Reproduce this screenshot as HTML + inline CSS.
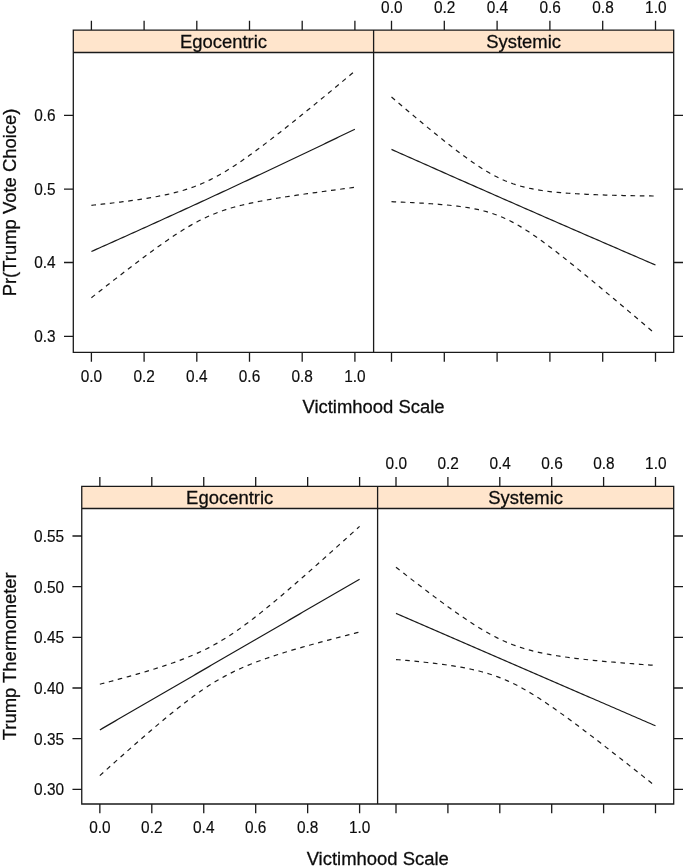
<!DOCTYPE html>
<html><head><meta charset="utf-8"><title>Victimhood effects</title>
<style>
html,body{margin:0;padding:0;background:#fff;}
svg{display:block;font-family:"Liberation Sans",Arial,Helvetica,sans-serif;}
text{fill:#0c0c0c;stroke:#0c0c0c;stroke-width:0.15px;}
text.b{stroke-width:0.28px;}
</style></head><body>
<svg width="685" height="867" viewBox="0 0 685 867">
<rect width="685" height="867" fill="#fff"/>
<rect x="73.3" y="30.1" width="600.40" height="22.40" fill="#ffe5cc"/>
<path d="M73.3,30.1 H673.7 V352.4 H73.3 Z M73.3,52.5 H673.7 M373.6,30.1 V352.4 M91.40,30.1 v-9.3 M91.40,352.4 v9.3 M391.50,30.1 v-9.3 M391.50,352.4 v9.3 M144.10,30.1 v-9.3 M144.10,352.4 v9.3 M444.30,30.1 v-9.3 M444.30,352.4 v9.3 M196.80,30.1 v-9.3 M196.80,352.4 v9.3 M497.10,30.1 v-9.3 M497.10,352.4 v9.3 M249.50,30.1 v-9.3 M249.50,352.4 v9.3 M549.90,30.1 v-9.3 M549.90,352.4 v9.3 M302.20,30.1 v-9.3 M302.20,352.4 v9.3 M602.70,30.1 v-9.3 M602.70,352.4 v9.3 M354.90,30.1 v-9.3 M354.90,352.4 v9.3 M655.50,30.1 v-9.3 M655.50,352.4 v9.3 M73.3,115.4 h-9.3 M673.7,115.4 h9.3 M73.3,189.2 h-9.3 M673.7,189.2 h9.3 M73.3,262.5 h-9.3 M673.7,262.5 h9.3 M73.3,336.3 h-9.3 M673.7,336.3 h9.3" fill="none" stroke="#1a1a1a" stroke-width="1.3"/>
<text transform="translate(91.40,381.70) scale(1,1.05)" text-anchor="middle" font-size="15.4">0.0</text>
<text transform="translate(391.80,12.80) scale(1,1.05)" text-anchor="middle" font-size="15.4">0.0</text>
<text transform="translate(144.10,381.70) scale(1,1.05)" text-anchor="middle" font-size="15.4">0.2</text>
<text transform="translate(444.60,12.80) scale(1,1.05)" text-anchor="middle" font-size="15.4">0.2</text>
<text transform="translate(196.80,381.70) scale(1,1.05)" text-anchor="middle" font-size="15.4">0.4</text>
<text transform="translate(497.40,12.80) scale(1,1.05)" text-anchor="middle" font-size="15.4">0.4</text>
<text transform="translate(249.50,381.70) scale(1,1.05)" text-anchor="middle" font-size="15.4">0.6</text>
<text transform="translate(550.20,12.80) scale(1,1.05)" text-anchor="middle" font-size="15.4">0.6</text>
<text transform="translate(302.20,381.70) scale(1,1.05)" text-anchor="middle" font-size="15.4">0.8</text>
<text transform="translate(603.00,12.80) scale(1,1.05)" text-anchor="middle" font-size="15.4">0.8</text>
<text transform="translate(354.90,381.70) scale(1,1.05)" text-anchor="middle" font-size="15.4">1.0</text>
<text transform="translate(655.80,12.80) scale(1,1.05)" text-anchor="middle" font-size="15.4">1.0</text>
<text transform="translate(55.60,121.35) scale(1,1.05)" text-anchor="end" font-size="15.4">0.6</text>
<text transform="translate(55.60,195.15) scale(1,1.05)" text-anchor="end" font-size="15.4">0.5</text>
<text transform="translate(55.60,268.45) scale(1,1.05)" text-anchor="end" font-size="15.4">0.4</text>
<text transform="translate(55.60,342.25) scale(1,1.05)" text-anchor="end" font-size="15.4">0.3</text>
<text x="223.45" y="48.10" class="b" text-anchor="middle" font-size="18.45">Egocentric</text>
<text x="523.65" y="48.10" class="b" text-anchor="middle" font-size="18.45">Systemic</text>
<text x="373.50" y="412.5" class="b" text-anchor="middle" font-size="18.45">Victimhood Scale</text>
<text transform="translate(16.3,202.45) rotate(-90)" class="b" text-anchor="middle" font-size="18.45">Pr(Trump Vote Choice)</text>
<path d="M91.40,251.50 L94.04,250.33 L96.67,249.16 L99.31,247.98 L101.94,246.81 L104.58,245.63 L107.21,244.46 L109.84,243.28 L112.48,242.10 L115.12,240.92 L117.75,239.74 L120.39,238.56 L123.02,237.37 L125.66,236.19 L128.29,235.00 L130.93,233.82 L133.56,232.63 L136.19,231.44 L138.83,230.25 L141.47,229.06 L144.10,227.87 L146.74,226.68 L149.37,225.49 L152.00,224.29 L154.64,223.10 L157.28,221.90 L159.91,220.70 L162.55,219.50 L165.18,218.30 L167.81,217.10 L170.45,215.90 L173.09,214.70 L175.72,213.50 L178.36,212.29 L180.99,211.08 L183.62,209.88 L186.26,208.67 L188.90,207.46 L191.53,206.25 L194.17,205.04 L196.80,203.83 L199.44,202.61 L202.07,201.40 L204.70,200.19 L207.34,198.97 L209.98,197.75 L212.61,196.53 L215.25,195.31 L217.88,194.09 L220.52,192.87 L223.15,191.65 L225.78,190.43 L228.42,189.20 L231.06,187.98 L233.69,186.75 L236.33,185.52 L238.96,184.29 L241.60,183.06 L244.23,181.83 L246.87,180.60 L249.50,179.37 L252.13,178.13 L254.77,176.90 L257.40,175.66 L260.04,174.43 L262.68,173.19 L265.31,171.95 L267.95,170.71 L270.58,169.47 L273.22,168.23 L275.85,166.98 L278.49,165.74 L281.12,164.49 L283.75,163.25 L286.39,162.00 L289.02,160.75 L291.66,159.50 L294.30,158.25 L296.93,157.00 L299.57,155.75 L302.20,154.49 L304.84,153.24 L307.47,151.98 L310.11,150.72 L312.74,149.47 L315.38,148.21 L318.01,146.95 L320.64,145.69 L323.28,144.43 L325.92,143.16 L328.55,141.90 L331.19,140.63 L333.82,139.37 L336.46,138.10 L339.09,136.83 L341.73,135.56 L344.36,134.29 L347.00,133.02 L349.63,131.75 L352.26,130.47 L354.90,129.20" fill="none" stroke="#1a1a1a" stroke-width="1.2"/>
<path d="M91.40,205.28 L94.04,205.01 L96.67,204.74 L99.31,204.46 L101.94,204.18 L104.58,203.89 L107.21,203.60 L109.84,203.30 L112.48,202.99 L115.12,202.68 L117.75,202.37 L120.39,202.04 L123.02,201.71 L125.66,201.37 L128.29,201.03 L130.93,200.67 L133.56,200.31 L136.19,199.93 L138.83,199.55 L141.47,199.15 L144.10,198.74 L146.74,198.31 L149.37,197.88 L152.00,197.42 L154.64,196.95 L157.28,196.47 L159.91,195.96 L162.55,195.43 L165.18,194.88 L167.81,194.30 L170.45,193.70 L173.09,193.07 L175.72,192.41 L178.36,191.71 L180.99,190.98 L183.62,190.21 L186.26,189.39 L188.90,188.54 L191.53,187.64 L194.17,186.69 L196.80,185.69 L199.44,184.64 L202.07,183.53 L204.70,182.37 L207.34,181.16 L209.98,179.89 L212.61,178.57 L215.25,177.19 L217.88,175.76 L220.52,174.28 L223.15,172.75 L225.78,171.18 L228.42,169.56 L231.06,167.90 L233.69,166.21 L236.33,164.47 L238.96,162.70 L241.60,160.91 L244.23,159.08 L246.87,157.22 L249.50,155.35 L252.13,153.44 L254.77,151.52 L257.40,149.58 L260.04,147.61 L262.68,145.64 L265.31,143.64 L267.95,141.63 L270.58,139.61 L273.22,137.58 L275.85,135.53 L278.49,133.48 L281.12,131.41 L283.75,129.33 L286.39,127.25 L289.02,125.15 L291.66,123.05 L294.30,120.95 L296.93,118.83 L299.57,116.71 L302.20,114.58 L304.84,112.45 L307.47,110.31 L310.11,108.16 L312.74,106.01 L315.38,103.86 L318.01,101.70 L320.64,99.54 L323.28,97.37 L325.92,95.20 L328.55,93.02 L331.19,90.84 L333.82,88.66 L336.46,86.48 L339.09,84.29 L341.73,82.09 L344.36,79.90 L347.00,77.70 L349.63,75.50 L352.26,73.30 L354.90,71.09" fill="none" stroke="#1a1a1a" stroke-width="1.2" stroke-dasharray="4.63 4.63"/>
<path d="M91.40,297.72 L94.04,295.65 L96.67,293.58 L99.31,291.51 L101.94,289.44 L104.58,287.38 L107.21,285.31 L109.84,283.26 L112.48,281.20 L115.12,279.15 L117.75,277.11 L120.39,275.07 L123.02,273.03 L125.66,271.00 L128.29,268.98 L130.93,266.96 L133.56,264.96 L136.19,262.95 L138.83,260.96 L141.47,258.98 L144.10,257.01 L146.74,255.04 L149.37,253.10 L152.00,251.16 L154.64,249.24 L157.28,247.33 L159.91,245.45 L162.55,243.58 L165.18,241.73 L167.81,239.90 L170.45,238.10 L173.09,236.33 L175.72,234.59 L178.36,232.87 L180.99,231.19 L183.62,229.55 L186.26,227.95 L188.90,226.38 L191.53,224.86 L194.17,223.39 L196.80,221.97 L199.44,220.59 L202.07,219.27 L204.70,218.00 L207.34,216.78 L209.98,215.61 L212.61,214.50 L215.25,213.44 L217.88,212.43 L220.52,211.46 L223.15,210.55 L225.78,209.67 L228.42,208.84 L231.06,208.05 L233.69,207.29 L236.33,206.57 L238.96,205.88 L241.60,205.22 L244.23,204.59 L246.87,203.98 L249.50,203.39 L252.13,202.83 L254.77,202.28 L257.40,201.75 L260.04,201.24 L262.68,200.74 L265.31,200.26 L267.95,199.78 L270.58,199.32 L273.22,198.87 L275.85,198.43 L278.49,198.00 L281.12,197.58 L283.75,197.16 L286.39,196.75 L289.02,196.35 L291.66,195.95 L294.30,195.55 L296.93,195.17 L299.57,194.78 L302.20,194.40 L304.84,194.03 L307.47,193.66 L310.11,193.29 L312.74,192.92 L315.38,192.56 L318.01,192.20 L320.64,191.84 L323.28,191.48 L325.92,191.13 L328.55,190.77 L331.19,190.42 L333.82,190.07 L336.46,189.72 L339.09,189.38 L341.73,189.03 L344.36,188.68 L347.00,188.34 L349.63,188.00 L352.26,187.65 L354.90,187.31" fill="none" stroke="#1a1a1a" stroke-width="1.2" stroke-dasharray="4.63 4.63"/>
<path d="M391.50,149.40 L394.14,150.58 L396.78,151.75 L399.42,152.93 L402.06,154.10 L404.70,155.28 L407.34,156.45 L409.98,157.62 L412.62,158.80 L415.26,159.97 L417.90,161.14 L420.54,162.31 L423.18,163.48 L425.82,164.65 L428.46,165.82 L431.10,167.00 L433.74,168.16 L436.38,169.33 L439.02,170.50 L441.66,171.67 L444.30,172.84 L446.94,174.01 L449.58,175.18 L452.22,176.34 L454.86,177.51 L457.50,178.68 L460.14,179.84 L462.78,181.01 L465.42,182.17 L468.06,183.34 L470.70,184.50 L473.34,185.66 L475.98,186.83 L478.62,187.99 L481.26,189.15 L483.90,190.32 L486.54,191.48 L489.18,192.64 L491.82,193.80 L494.46,194.96 L497.10,196.12 L499.74,197.28 L502.38,198.44 L505.02,199.60 L507.66,200.76 L510.30,201.92 L512.94,203.07 L515.58,204.23 L518.22,205.39 L520.86,206.54 L523.50,207.70 L526.14,208.86 L528.78,210.01 L531.42,211.17 L534.06,212.32 L536.70,213.48 L539.34,214.63 L541.98,215.78 L544.62,216.94 L547.26,218.09 L549.90,219.24 L552.54,220.39 L555.18,221.54 L557.82,222.69 L560.46,223.84 L563.10,225.00 L565.74,226.14 L568.38,227.29 L571.02,228.44 L573.66,229.59 L576.30,230.74 L578.94,231.89 L581.58,233.04 L584.22,234.18 L586.86,235.33 L589.50,236.47 L592.14,237.62 L594.78,238.77 L597.42,239.91 L600.06,241.06 L602.70,242.20 L605.34,243.34 L607.98,244.49 L610.62,245.63 L613.26,246.77 L615.90,247.91 L618.54,249.06 L621.18,250.20 L623.82,251.34 L626.46,252.48 L629.10,253.62 L631.74,254.76 L634.38,255.90 L637.02,257.04 L639.66,258.18 L642.30,259.32 L644.94,260.45 L647.58,261.59 L650.22,262.73 L652.86,263.86 L655.50,265.00" fill="none" stroke="#1a1a1a" stroke-width="1.2"/>
<path d="M391.50,97.08 L394.14,99.33 L396.78,101.57 L399.42,103.82 L402.06,106.05 L404.70,108.28 L407.34,110.51 L409.98,112.73 L412.62,114.95 L415.26,117.16 L417.90,119.36 L420.54,121.56 L423.18,123.74 L425.82,125.93 L428.46,128.10 L431.10,130.26 L433.74,132.42 L436.38,134.56 L439.02,136.69 L441.66,138.81 L444.30,140.91 L446.94,143.00 L449.58,145.08 L452.22,147.13 L454.86,149.17 L457.50,151.19 L460.14,153.18 L462.78,155.15 L465.42,157.09 L468.06,159.00 L470.70,160.87 L473.34,162.71 L475.98,164.51 L478.62,166.27 L481.26,167.98 L483.90,169.65 L486.54,171.25 L489.18,172.80 L491.82,174.29 L494.46,175.72 L497.10,177.08 L499.74,178.37 L502.38,179.59 L505.02,180.74 L507.66,181.82 L510.30,182.83 L512.94,183.78 L515.58,184.65 L518.22,185.47 L520.86,186.22 L523.50,186.92 L526.14,187.56 L528.78,188.16 L531.42,188.70 L534.06,189.21 L536.70,189.68 L539.34,190.11 L541.98,190.52 L544.62,190.89 L547.26,191.23 L549.90,191.55 L552.54,191.85 L555.18,192.12 L557.82,192.38 L560.46,192.62 L563.10,192.85 L565.74,193.06 L568.38,193.25 L571.02,193.44 L573.66,193.61 L576.30,193.77 L578.94,193.92 L581.58,194.07 L584.22,194.20 L586.86,194.33 L589.50,194.45 L592.14,194.56 L594.78,194.67 L597.42,194.77 L600.06,194.87 L602.70,194.96 L605.34,195.04 L607.98,195.12 L610.62,195.20 L613.26,195.27 L615.90,195.34 L618.54,195.41 L621.18,195.47 L623.82,195.53 L626.46,195.58 L629.10,195.63 L631.74,195.68 L634.38,195.73 L637.02,195.77 L639.66,195.82 L642.30,195.86 L644.94,195.89 L647.58,195.93 L650.22,195.96 L652.86,195.99 L655.50,196.02" fill="none" stroke="#1a1a1a" stroke-width="1.2" stroke-dasharray="4.63 4.63"/>
<path d="M391.50,201.72 L394.14,201.82 L396.78,201.93 L399.42,202.04 L402.06,202.15 L404.70,202.27 L407.34,202.39 L409.98,202.51 L412.62,202.64 L415.26,202.78 L417.90,202.92 L420.54,203.07 L423.18,203.22 L425.82,203.38 L428.46,203.55 L431.10,203.73 L433.74,203.91 L436.38,204.11 L439.02,204.32 L441.66,204.54 L444.30,204.77 L446.94,205.01 L449.58,205.27 L452.22,205.55 L454.86,205.85 L457.50,206.16 L460.14,206.50 L462.78,206.87 L465.42,207.26 L468.06,207.68 L470.70,208.13 L473.34,208.62 L475.98,209.14 L478.62,209.71 L481.26,210.32 L483.90,210.98 L486.54,211.70 L489.18,212.47 L491.82,213.30 L494.46,214.20 L497.10,215.16 L499.74,216.19 L502.38,217.29 L505.02,218.45 L507.66,219.69 L510.30,221.00 L512.94,222.37 L515.58,223.81 L518.22,225.31 L520.86,226.87 L523.50,228.48 L526.14,230.15 L528.78,231.87 L531.42,233.63 L534.06,235.43 L536.70,237.27 L539.34,239.14 L541.98,241.05 L544.62,242.98 L547.26,244.94 L549.90,246.93 L552.54,248.94 L555.18,250.96 L557.82,253.01 L560.46,255.07 L563.10,257.14 L565.74,259.23 L568.38,261.34 L571.02,263.45 L573.66,265.57 L576.30,267.71 L578.94,269.85 L581.58,272.00 L584.22,274.16 L586.86,276.33 L589.50,278.50 L592.14,280.68 L594.78,282.86 L597.42,285.05 L600.06,287.24 L602.70,289.44 L605.34,291.64 L607.98,293.85 L610.62,296.06 L613.26,298.27 L615.90,300.49 L618.54,302.71 L621.18,304.93 L623.82,307.15 L626.46,309.38 L629.10,311.61 L631.74,313.84 L634.38,316.07 L637.02,318.30 L639.66,320.54 L642.30,322.77 L644.94,325.01 L647.58,327.25 L650.22,329.49 L652.86,331.74 L655.50,333.98" fill="none" stroke="#1a1a1a" stroke-width="1.2" stroke-dasharray="4.63 4.63"/>
<rect x="81.75" y="486.3" width="591.95" height="22.20" fill="#ffe5cc"/>
<path d="M81.75,486.3 H673.7 V804.0 H81.75 Z M81.75,508.5 H673.7 M377.6,486.3 V804.0 M99.85,486.3 v-9.3 M99.85,804.0 v9.3 M396.00,486.3 v-9.3 M396.00,804.0 v9.3 M151.80,486.3 v-9.3 M151.80,804.0 v9.3 M447.90,486.3 v-9.3 M447.90,804.0 v9.3 M203.75,486.3 v-9.3 M203.75,804.0 v9.3 M499.80,486.3 v-9.3 M499.80,804.0 v9.3 M255.70,486.3 v-9.3 M255.70,804.0 v9.3 M551.70,486.3 v-9.3 M551.70,804.0 v9.3 M307.65,486.3 v-9.3 M307.65,804.0 v9.3 M603.60,486.3 v-9.3 M603.60,804.0 v9.3 M359.60,486.3 v-9.3 M359.60,804.0 v9.3 M655.50,486.3 v-9.3 M655.50,804.0 v9.3 M81.75,536.0 h-9.3 M673.7,536.0 h9.3 M81.75,586.6 h-9.3 M673.7,586.6 h9.3 M81.75,637.3 h-9.3 M673.7,637.3 h9.3 M81.75,688.0 h-9.3 M673.7,688.0 h9.3 M81.75,738.6 h-9.3 M673.7,738.6 h9.3 M81.75,789.3 h-9.3 M673.7,789.3 h9.3" fill="none" stroke="#1a1a1a" stroke-width="1.3"/>
<text transform="translate(99.85,833.30) scale(1,1.05)" text-anchor="middle" font-size="15.4">0.0</text>
<text transform="translate(396.30,469.00) scale(1,1.05)" text-anchor="middle" font-size="15.4">0.0</text>
<text transform="translate(151.80,833.30) scale(1,1.05)" text-anchor="middle" font-size="15.4">0.2</text>
<text transform="translate(448.20,469.00) scale(1,1.05)" text-anchor="middle" font-size="15.4">0.2</text>
<text transform="translate(203.75,833.30) scale(1,1.05)" text-anchor="middle" font-size="15.4">0.4</text>
<text transform="translate(500.10,469.00) scale(1,1.05)" text-anchor="middle" font-size="15.4">0.4</text>
<text transform="translate(255.70,833.30) scale(1,1.05)" text-anchor="middle" font-size="15.4">0.6</text>
<text transform="translate(552.00,469.00) scale(1,1.05)" text-anchor="middle" font-size="15.4">0.6</text>
<text transform="translate(307.65,833.30) scale(1,1.05)" text-anchor="middle" font-size="15.4">0.8</text>
<text transform="translate(603.90,469.00) scale(1,1.05)" text-anchor="middle" font-size="15.4">0.8</text>
<text transform="translate(359.60,833.30) scale(1,1.05)" text-anchor="middle" font-size="15.4">1.0</text>
<text transform="translate(655.80,469.00) scale(1,1.05)" text-anchor="middle" font-size="15.4">1.0</text>
<text transform="translate(64.05,541.95) scale(1,1.05)" text-anchor="end" font-size="15.4">0.55</text>
<text transform="translate(64.05,592.55) scale(1,1.05)" text-anchor="end" font-size="15.4">0.50</text>
<text transform="translate(64.05,643.25) scale(1,1.05)" text-anchor="end" font-size="15.4">0.45</text>
<text transform="translate(64.05,693.95) scale(1,1.05)" text-anchor="end" font-size="15.4">0.40</text>
<text transform="translate(64.05,744.55) scale(1,1.05)" text-anchor="end" font-size="15.4">0.35</text>
<text transform="translate(64.05,795.25) scale(1,1.05)" text-anchor="end" font-size="15.4">0.30</text>
<text x="229.68" y="504.30" class="b" text-anchor="middle" font-size="18.45">Egocentric</text>
<text x="525.65" y="504.30" class="b" text-anchor="middle" font-size="18.45">Systemic</text>
<text x="377.73" y="864.7" class="b" text-anchor="middle" font-size="18.45">Victimhood Scale</text>
<text transform="translate(16.3,656.25) rotate(-90)" class="b" text-anchor="middle" font-size="18.45">Trump Thermometer</text>
<path d="M99.85,729.90 L102.45,728.39 L105.04,726.89 L107.64,725.38 L110.24,723.87 L112.84,722.37 L115.43,720.86 L118.03,719.35 L120.63,717.84 L123.23,716.34 L125.82,714.83 L128.42,713.32 L131.02,711.82 L133.62,710.31 L136.22,708.80 L138.81,707.29 L141.41,705.79 L144.01,704.28 L146.60,702.77 L149.20,701.27 L151.80,699.76 L154.40,698.25 L157.00,696.75 L159.59,695.24 L162.19,693.73 L164.79,692.23 L167.38,690.72 L169.98,689.21 L172.58,687.70 L175.18,686.20 L177.77,684.69 L180.37,683.18 L182.97,681.68 L185.57,680.17 L188.17,678.66 L190.76,677.15 L193.36,675.65 L195.96,674.14 L198.56,672.63 L201.15,671.13 L203.75,669.62 L206.35,668.11 L208.94,666.61 L211.54,665.10 L214.14,663.59 L216.74,662.09 L219.33,660.58 L221.93,659.07 L224.53,657.56 L227.13,656.06 L229.72,654.55 L232.32,653.04 L234.92,651.54 L237.52,650.03 L240.12,648.52 L242.71,647.01 L245.31,645.51 L247.91,644.00 L250.50,642.49 L253.10,640.99 L255.70,639.48 L258.30,637.97 L260.89,636.47 L263.49,634.96 L266.09,633.45 L268.69,631.95 L271.28,630.44 L273.88,628.93 L276.48,627.42 L279.08,625.92 L281.68,624.41 L284.27,622.90 L286.87,621.40 L289.47,619.89 L292.06,618.38 L294.66,616.88 L297.26,615.37 L299.86,613.86 L302.46,612.35 L305.05,610.85 L307.65,609.34 L310.25,607.83 L312.85,606.33 L315.44,604.82 L318.04,603.31 L320.64,601.81 L323.24,600.30 L325.83,598.79 L328.43,597.28 L331.03,595.78 L333.62,594.27 L336.22,592.76 L338.82,591.26 L341.42,589.75 L344.01,588.24 L346.61,586.74 L349.21,585.23 L351.81,583.72 L354.40,582.21 L357.00,580.71 L359.60,579.20" fill="none" stroke="#1a1a1a" stroke-width="1.2"/>
<path d="M99.85,684.22 L102.45,683.54 L105.04,682.86 L107.64,682.18 L110.24,681.49 L112.84,680.80 L115.43,680.10 L118.03,679.40 L120.63,678.70 L123.23,677.99 L125.82,677.28 L128.42,676.56 L131.02,675.83 L133.62,675.10 L136.22,674.36 L138.81,673.61 L141.41,672.86 L144.01,672.10 L146.60,671.33 L149.20,670.55 L151.80,669.76 L154.40,668.96 L157.00,668.15 L159.59,667.33 L162.19,666.49 L164.79,665.64 L167.38,664.77 L169.98,663.89 L172.58,662.98 L175.18,662.06 L177.77,661.12 L180.37,660.16 L182.97,659.17 L185.57,658.16 L188.17,657.12 L190.76,656.05 L193.36,654.95 L195.96,653.81 L198.56,652.65 L201.15,651.44 L203.75,650.20 L206.35,648.92 L208.94,647.60 L211.54,646.23 L214.14,644.83 L216.74,643.37 L219.33,641.88 L221.93,640.34 L224.53,638.75 L227.13,637.12 L229.72,635.45 L232.32,633.74 L234.92,631.99 L237.52,630.20 L240.12,628.37 L242.71,626.50 L245.31,624.61 L247.91,622.68 L250.50,620.72 L253.10,618.73 L255.70,616.71 L258.30,614.68 L260.89,612.61 L263.49,610.53 L266.09,608.43 L268.69,606.31 L271.28,604.17 L273.88,602.01 L276.48,599.84 L279.08,597.66 L281.68,595.46 L284.27,593.26 L286.87,591.04 L289.47,588.81 L292.06,586.57 L294.66,584.32 L297.26,582.06 L299.86,579.80 L302.46,577.52 L305.05,575.25 L307.65,572.96 L310.25,570.67 L312.85,568.37 L315.44,566.07 L318.04,563.76 L320.64,561.45 L323.24,559.13 L325.83,556.81 L328.43,554.49 L331.03,552.16 L333.62,549.83 L336.22,547.49 L338.82,545.15 L341.42,542.81 L344.01,540.47 L346.61,538.12 L349.21,535.77 L351.81,533.42 L354.40,531.07 L357.00,528.71 L359.60,526.35" fill="none" stroke="#1a1a1a" stroke-width="1.2" stroke-dasharray="4.63 4.63"/>
<path d="M99.85,775.58 L102.45,773.25 L105.04,770.91 L107.64,768.58 L110.24,766.26 L112.84,763.93 L115.43,761.61 L118.03,759.30 L120.63,756.99 L123.23,754.68 L125.82,752.38 L128.42,750.09 L131.02,747.80 L133.62,745.52 L136.22,743.24 L138.81,740.98 L141.41,738.71 L144.01,736.46 L146.60,734.22 L149.20,731.98 L151.80,729.76 L154.40,727.54 L157.00,725.34 L159.59,723.15 L162.19,720.98 L164.79,718.81 L167.38,716.67 L169.98,714.54 L172.58,712.42 L175.18,710.33 L177.77,708.26 L180.37,706.21 L182.97,704.18 L185.57,702.18 L188.17,700.21 L190.76,698.26 L193.36,696.35 L195.96,694.47 L198.56,692.62 L201.15,690.81 L203.75,689.04 L206.35,687.31 L208.94,685.61 L211.54,683.96 L214.14,682.36 L216.74,680.80 L219.33,679.28 L221.93,677.80 L224.53,676.37 L227.13,674.99 L229.72,673.65 L232.32,672.34 L234.92,671.08 L237.52,669.86 L240.12,668.68 L242.71,667.53 L245.31,666.41 L247.91,665.33 L250.50,664.27 L253.10,663.25 L255.70,662.25 L258.30,661.27 L260.89,660.32 L263.49,659.39 L266.09,658.48 L268.69,657.58 L271.28,656.71 L273.88,655.85 L276.48,655.00 L279.08,654.17 L281.68,653.36 L284.27,652.55 L286.87,651.76 L289.47,650.97 L292.06,650.20 L294.66,649.43 L297.26,648.67 L299.86,647.93 L302.46,647.18 L305.05,646.45 L307.65,645.72 L310.25,645.00 L312.85,644.28 L315.44,643.57 L318.04,642.86 L320.64,642.16 L323.24,641.46 L325.83,640.77 L328.43,640.08 L331.03,639.40 L333.62,638.71 L336.22,638.03 L338.82,637.36 L341.42,636.69 L344.01,636.02 L346.61,635.35 L349.21,634.68 L351.81,634.02 L354.40,633.36 L357.00,632.70 L359.60,632.05" fill="none" stroke="#1a1a1a" stroke-width="1.2" stroke-dasharray="4.63 4.63"/>
<path d="M396.00,613.40 L398.60,614.52 L401.19,615.65 L403.79,616.77 L406.38,617.90 L408.98,619.02 L411.57,620.14 L414.17,621.27 L416.76,622.39 L419.36,623.52 L421.95,624.64 L424.55,625.76 L427.14,626.89 L429.74,628.01 L432.33,629.14 L434.93,630.26 L437.52,631.38 L440.12,632.51 L442.71,633.63 L445.31,634.76 L447.90,635.88 L450.50,637.00 L453.09,638.13 L455.69,639.25 L458.28,640.38 L460.88,641.50 L463.47,642.62 L466.06,643.75 L468.66,644.87 L471.25,646.00 L473.85,647.12 L476.44,648.24 L479.04,649.37 L481.63,650.49 L484.23,651.62 L486.82,652.74 L489.42,653.86 L492.01,654.99 L494.61,656.11 L497.20,657.24 L499.80,658.36 L502.39,659.48 L504.99,660.61 L507.58,661.73 L510.18,662.86 L512.77,663.98 L515.37,665.10 L517.97,666.23 L520.56,667.35 L523.15,668.48 L525.75,669.60 L528.35,670.72 L530.94,671.85 L533.53,672.97 L536.13,674.10 L538.73,675.22 L541.32,676.34 L543.91,677.47 L546.51,678.59 L549.11,679.72 L551.70,680.84 L554.29,681.96 L556.89,683.09 L559.49,684.21 L562.08,685.34 L564.67,686.46 L567.27,687.58 L569.87,688.71 L572.46,689.83 L575.06,690.96 L577.65,692.08 L580.25,693.20 L582.84,694.33 L585.43,695.45 L588.03,696.58 L590.62,697.70 L593.22,698.82 L595.82,699.95 L598.41,701.07 L601.00,702.20 L603.60,703.32 L606.20,704.44 L608.79,705.57 L611.38,706.69 L613.98,707.82 L616.58,708.94 L619.17,710.06 L621.76,711.19 L624.36,712.31 L626.96,713.44 L629.55,714.56 L632.14,715.68 L634.74,716.81 L637.34,717.93 L639.93,719.06 L642.52,720.18 L645.12,721.30 L647.72,722.43 L650.31,723.55 L652.90,724.68 L655.50,725.80" fill="none" stroke="#1a1a1a" stroke-width="1.2"/>
<path d="M396.00,567.27 L398.60,569.30 L401.19,571.32 L403.79,573.34 L406.38,575.35 L408.98,577.36 L411.57,579.36 L414.17,581.36 L416.76,583.35 L419.36,585.34 L421.95,587.32 L424.55,589.29 L427.14,591.26 L429.74,593.22 L432.33,595.17 L434.93,597.11 L437.52,599.04 L440.12,600.96 L442.71,602.86 L445.31,604.76 L447.90,606.64 L450.50,608.51 L453.09,610.36 L455.69,612.20 L458.28,614.02 L460.88,615.81 L463.47,617.59 L466.06,619.34 L468.66,621.07 L471.25,622.77 L473.85,624.45 L476.44,626.09 L479.04,627.70 L481.63,629.27 L484.23,630.81 L486.82,632.31 L489.42,633.76 L492.01,635.17 L494.61,636.54 L497.20,637.85 L499.80,639.12 L502.39,640.34 L504.99,641.50 L507.58,642.61 L510.18,643.68 L512.77,644.69 L515.37,645.65 L517.97,646.56 L520.56,647.43 L523.15,648.24 L525.75,649.02 L528.35,649.76 L530.94,650.45 L533.53,651.11 L536.13,651.74 L538.73,652.33 L541.32,652.89 L543.91,653.42 L546.51,653.93 L549.11,654.42 L551.70,654.88 L554.29,655.32 L556.89,655.75 L559.49,656.15 L562.08,656.54 L564.67,656.91 L567.27,657.27 L569.87,657.62 L572.46,657.96 L575.06,658.28 L577.65,658.59 L580.25,658.90 L582.84,659.19 L585.43,659.48 L588.03,659.76 L590.62,660.03 L593.22,660.30 L595.82,660.56 L598.41,660.81 L601.00,661.06 L603.60,661.30 L606.20,661.54 L608.79,661.77 L611.38,662.00 L613.98,662.22 L616.58,662.44 L619.17,662.66 L621.76,662.87 L624.36,663.08 L626.96,663.29 L629.55,663.50 L632.14,663.70 L634.74,663.90 L637.34,664.10 L639.93,664.29 L642.52,664.48 L645.12,664.67 L647.72,664.86 L650.31,665.05 L652.90,665.23 L655.50,665.42" fill="none" stroke="#1a1a1a" stroke-width="1.2" stroke-dasharray="4.63 4.63"/>
<path d="M396.00,659.53 L398.60,659.75 L401.19,659.98 L403.79,660.21 L406.38,660.44 L408.98,660.68 L411.57,660.93 L414.17,661.18 L416.76,661.43 L419.36,661.69 L421.95,661.96 L424.55,662.24 L427.14,662.52 L429.74,662.81 L432.33,663.11 L434.93,663.41 L437.52,663.73 L440.12,664.06 L442.71,664.40 L445.31,664.75 L447.90,665.12 L450.50,665.50 L453.09,665.89 L455.69,666.31 L458.28,666.74 L460.88,667.19 L463.47,667.66 L466.06,668.15 L468.66,668.67 L471.25,669.22 L473.85,669.79 L476.44,670.40 L479.04,671.04 L481.63,671.71 L484.23,672.42 L486.82,673.17 L489.42,673.97 L492.01,674.80 L494.61,675.69 L497.20,676.62 L499.80,677.60 L502.39,678.63 L504.99,679.72 L507.58,680.85 L510.18,682.04 L512.77,683.27 L515.37,684.56 L517.97,685.90 L520.56,687.28 L523.15,688.71 L525.75,690.18 L528.35,691.69 L530.94,693.24 L533.53,694.83 L536.13,696.46 L538.73,698.11 L541.32,699.80 L543.91,701.51 L546.51,703.25 L549.11,705.01 L551.70,706.80 L554.29,708.61 L556.89,710.43 L559.49,712.27 L562.08,714.13 L564.67,716.01 L567.27,717.89 L569.87,719.79 L572.46,721.71 L575.06,723.63 L577.65,725.57 L580.25,727.51 L582.84,729.46 L585.43,731.42 L588.03,733.39 L590.62,735.37 L593.22,737.35 L595.82,739.34 L598.41,741.34 L601.00,743.34 L603.60,745.34 L606.20,747.35 L608.79,749.37 L611.38,751.39 L613.98,753.41 L616.58,755.44 L619.17,757.47 L621.76,759.50 L624.36,761.54 L626.96,763.58 L629.55,765.62 L632.14,767.67 L634.74,769.72 L637.34,771.77 L639.93,773.82 L642.52,775.88 L645.12,777.93 L647.72,779.99 L650.31,782.06 L652.90,784.12 L655.50,786.18" fill="none" stroke="#1a1a1a" stroke-width="1.2" stroke-dasharray="4.63 4.63"/>
</svg>
</body></html>
